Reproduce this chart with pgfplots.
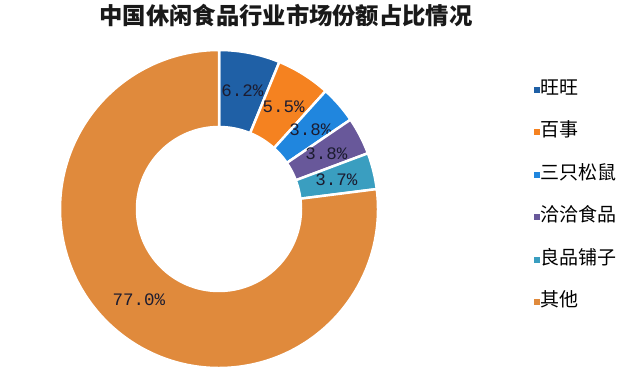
\documentclass[border=0pt]{standalone}
\usepackage{pgfplots}
\pgfplotsset{compat=1.18}
\usepackage{pgfplotstable}
\usepackage{fontspec}
\newfontfamily\cjk{Noto Sans CJK SC}
\newfontfamily\monofont{Liberation Mono}
\definecolor{cA}{RGB}{31,96,166}
\definecolor{cB}{RGB}{245,130,32}
\definecolor{cC}{RGB}{32,134,222}
\definecolor{cD}{RGB}{104,88,154}
\definecolor{cE}{RGB}{58,158,192}
\definecolor{cF}{RGB}{224,138,60}
\definecolor{lbl}{RGB}{28,28,48}

\pgfplotstableread{
name value
旺旺 6.2
百事 5.5
三只松鼠 3.8
洽洽食品 3.8
良品铺子 3.7
其他 77.0
}\data

\begin{document}
\begin{tikzpicture}
\begin{axis}[
  scale only axis, width=640pt, height=378pt,
  xmin=0, xmax=640, ymin=0, ymax=378,
  hide axis, clip=false,
  title={\cjk\bfseries\fontsize{23.3}{23.3}\selectfont 中国休闲食品行业市场份额占比情况},
  title style={at={(0.447,0.942)}, anchor=center, text=black!90},
  legend style={at={(axis cs:531,300)}, anchor=north west, draw=none, fill=none,
    font=\cjk\fontsize{19}{19}\selectfont, row sep=24pt,
    nodes={inner sep=1pt, text height=13pt, text depth=3.5pt}},
  legend cell align=left,
]
\path (rel axis cs:0,0) (rel axis cs:1,1);
\def\cx{219}\def\cy{169}\def\Ro{159}\def\Ri{82}\def\Rl{121}
\pgfplotsextra{
  \gdef\cum{0}
  \foreach \i/\col in {0/cA,1/cB,2/cC,3/cD,4/cE,5/cF}{
    \pgfplotstablegetelem{\i}{value}\of\data
    \pgfmathsetmacro\v{\pgfplotsretval}
    \pgfmathsetmacro\sa{90-3.6*\cum}
    \pgfmathsetmacro\ea{90-3.6*(\cum+\v)}
    \pgfmathsetmacro\ma{(\sa+\ea)/2}
    \pgfmathsetmacro\xa{\cx+\Ro*cos(\sa)}
    \pgfmathsetmacro\ya{\cy+\Ro*sin(\sa)}
    \pgfmathsetmacro\xb{\cx+\Ri*cos(\ea)}
    \pgfmathsetmacro\yb{\cy+\Ri*sin(\ea)}
    \pgfmathsetmacro\xl{\cx+\Rl*cos(\ma)}
    \pgfmathsetmacro\yl{\cy+\Rl*sin(\ma)}
    \fill[\col, draw=white, line width=2.5pt, line join=miter]
      (axis cs:\xa,\ya) arc[start angle=\sa, end angle=\ea, radius=\Ro pt]
      -- (axis cs:\xb,\yb) arc[start angle=\ea, end angle=\sa, radius=\Ri pt] -- cycle;
    \node[font=\monofont\fontsize{17.5}{17.5}\selectfont, text=lbl] at (axis cs:\xl,\yl)
      {\pgfmathprintnumber[fixed, fixed zerofill, precision=1, assume math mode=true]{\v}\%};
    \pgfmathsetmacro\newcum{\cum+\v}
    \global\let\cum\newcum
  }
}
\pgfplotsset{sq/.style={legend image code/.code={\fill[#1] (-2.6pt,-2.6pt) rectangle (2.6pt,2.6pt); \path (0,-8pt) (0,2.6pt);}}}
\addlegendimage{sq=cA}
\addlegendentry{旺旺}
\addlegendimage{sq=cB}
\addlegendentry{百事}
\addlegendimage{sq=cC}
\addlegendentry{三只松鼠}
\addlegendimage{sq=cD}
\addlegendentry{洽洽食品}
\addlegendimage{sq=cE}
\addlegendentry{良品铺子}
\addlegendimage{sq=cF}
\addlegendentry{其他}
\end{axis}
\end{tikzpicture}
\end{document}
